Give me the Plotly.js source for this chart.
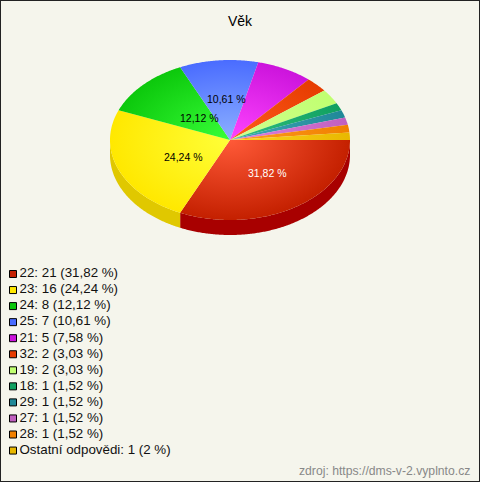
<!DOCTYPE html>
<html><head><meta charset="utf-8">
<script src="https://cdn.plot.ly/plotly-3.0.1.min.js"></script>
<style>html,body{margin:0;padding:0;background:#f5f5ec;overflow:hidden}#c{width:480px;height:482px}</style>
</head><body><div id="c"></div>
<script>
const categories = ["22","23","24","25","21","32","19","18","29","27","28","Ostatní odpovědi"];
const counts = [21,16,8,7,5,2,2,1,1,1,1,1];
const percentLabels = ["31,82 %","24,24 %","12,12 %","10,61 %","7,58 %","3,03 %","3,03 %","1,52 %","1,52 %","1,52 %","1,52 %","2 %"];
const sliceColors = ["#c42000","#ffe800","#0cc80c","#4a6cff","#cc14dc","#e63c00","#c0ff70","#10a060","#208898","#c060c0","#f08000","#e8b800"];
const sliceCenterColors = ["#ff5a38","#ffff38","#38ff38","#8cb0ff","#ff44ff","#ff5c1c","#d0ff90","#30c080","#40a8b8","#e080e0","#ff9c20","#ffd420"];
const sideColors = ["#a80000","#e0c800"];
const pieLabelShown = [true,true,true,true,false,false,false,false,false,false,false,false];
const pieLabelColors = ["#ffffff","#000000","#000000","#000000"];

const W=480,H=482,cx=230,cy=140,rx=120,ry=80,depth=15;
const total=counts.reduce((a,b)=>a+b,0);
const traces=[];
let a0=0;
const arcs=counts.map(c=>{const s=a0;a0+=c/total*2*Math.PI;return [s,a0];});
function pt(a,off){return [cx+rx*Math.cos(a),cy+ry*Math.sin(a)+(off||0)];}
function samples(s,e){const n=Math.max(2,Math.ceil((e-s)/0.01));const o=[];for(let i=0;i<=n;i++)o.push(s+(e-s)*i/n);return o;}
// side walls
arcs.forEach((ar,i)=>{
  const s=ar[0],e=Math.min(ar[1],Math.PI);
  if(s>=Math.PI) return;
  const A=samples(s,e);
  const top=A.map(a=>pt(a,0)),bot=A.slice().reverse().map(a=>pt(a,depth));
  const p=top.concat(bot);p.push(top[0]);
  traces.push({type:'scatter',mode:'lines',x:p.map(q=>q[0]),y:p.map(q=>q[1]),fill:'toself',fillcolor:sideColors[i]||sliceColors[i],line:{width:0,simplify:false},hoverinfo:'skip'});
});
// top face: zero-area spikes to the four extremes make every slice's bounding box
// the full ellipse, so each radial gradient is centred on the pie centre
const C=[cx,cy];
const spikes=[C,pt(0),C,pt(Math.PI/2),C,pt(Math.PI),C,pt(3*Math.PI/2),C];
arcs.forEach((ar,i)=>{
  const A=samples(ar[0],ar[1]);
  const p=spikes.concat(A.map(a=>pt(a,0)));p.push(C);
  traces.push({type:'scatter',mode:'lines',x:p.map(q=>q[0]),y:p.map(q=>q[1]),fill:'toself',line:{width:0,simplify:false},hoverinfo:'skip',
    fillgradient:{type:'radial',colorscale:[[0,sliceCenterColors[i]],[1,sliceColors[i]]]}});
});
// legend
const legendY=categories.map((c,i)=>274+i*16.05);
traces.push({type:'scatter',mode:'markers',x:categories.map(()=>13),y:legendY,
  marker:{symbol:'square',size:7,color:sliceColors,line:{color:'#000',width:1}},hoverinfo:'skip'});
traces.push({type:'scatter',mode:'text',x:categories.map(()=>19.5),y:legendY,
  text:categories.map((c,i)=>c+': '+counts[i]+' ('+percentLabels[i]+')'),
  textposition:'middle right',textfont:{family:'Liberation Sans',size:13.33,color:'#111'},hoverinfo:'skip'});

const labelPlaces=[[267,173],[183,157],[199,118],[226,99]];
const annotations=[];
pieLabelShown.forEach((v,i)=>{ if(v) annotations.push({x:labelPlaces[i][0],y:labelPlaces[i][1],text:percentLabels[i],showarrow:false,xref:'x',yref:'y',
  font:{family:'Liberation Sans',size:10.5,color:pieLabelColors[i]}});});
annotations.push({x:384,y:470.5,xref:'x',yref:'y',text:'zdroj: https://dms-v-2.vyplnto.cz',showarrow:false,font:{family:'Liberation Sans',size:12.2,color:'#888'}});

Plotly.newPlot('c',traces,{
  width:W,height:H,margin:{l:0,r:0,t:0,b:0},showlegend:false,
  paper_bgcolor:'#f5f5ec',plot_bgcolor:'#f5f5ec',
  xaxis:{range:[0,W],visible:false,fixedrange:true},
  yaxis:{range:[H,0],visible:false,fixedrange:true},
  title:{text:'Věk',x:0.5,xanchor:'center',y:0.956,yanchor:'middle',font:{family:'Liberation Sans',size:14,color:'#000'}},
  annotations,
  shapes:[{type:'rect',xref:'paper',yref:'paper',x0:0,y0:0,x1:1,y1:1,line:{color:'#222',width:2},fillcolor:'rgba(0,0,0,0)'}]
},{staticPlot:true,displayModeBar:false});
</script></body></html>
